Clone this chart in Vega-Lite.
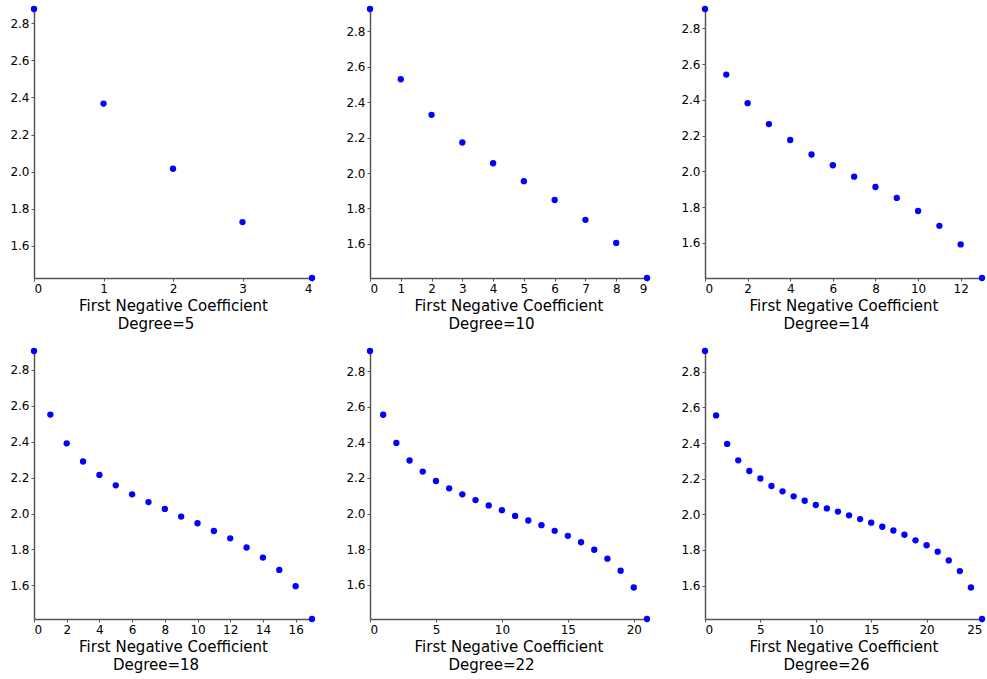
{
  "$schema": "https://vega.github.io/schema/vega-lite/v6.json",
  "padding": {"left": 9, "top": 5, "right": 0, "bottom": 0},
  "background": "white",
  "spacing": 15,
  "config": {
    "font": "DejaVu Sans",
    "view": {"stroke": null},
    "axis": {
      "grid": false,
      "domainColor": "#555555",
      "domainWidth": 1.5,
      "tickColor": "#555555",
      "tickSize": 3,
      "labelFont": "DejaVu Sans",
      "labelFontSize": 12,
      "labelColor": "#000000",
      "labelPadding": 2,
      "titleFont": "DejaVu Sans",
      "titleFontSize": 15,
      "titleFontWeight": "normal",
      "titleColor": "#000000",
      "titlePadding": 4
    },
    "title": {"font": "DejaVu Sans", "fontSize": 15, "fontWeight": "normal", "color": "#000000", "offset": 4},
    "concat": {"spacing": 29}
  },
  "datasets": {
    "pts": [
      {"degree": 5, "k": 0, "value": 2.878},
      {"degree": 5, "k": 1, "value": 2.367},
      {"degree": 5, "k": 2, "value": 2.015},
      {"degree": 5, "k": 3, "value": 1.727},
      {"degree": 5, "k": 4, "value": 1.425},
      {"degree": 10, "k": 0, "value": 2.925},
      {"degree": 10, "k": 1, "value": 2.529},
      {"degree": 10, "k": 2, "value": 2.328},
      {"degree": 10, "k": 3, "value": 2.172},
      {"degree": 10, "k": 4, "value": 2.055},
      {"degree": 10, "k": 5, "value": 1.954},
      {"degree": 10, "k": 6, "value": 1.848},
      {"degree": 10, "k": 7, "value": 1.736},
      {"degree": 10, "k": 8, "value": 1.606},
      {"degree": 10, "k": 9, "value": 1.408},
      {"degree": 14, "k": 0, "value": 2.909},
      {"degree": 14, "k": 1, "value": 2.542},
      {"degree": 14, "k": 2, "value": 2.382},
      {"degree": 14, "k": 3, "value": 2.265},
      {"degree": 14, "k": 4, "value": 2.176},
      {"degree": 14, "k": 5, "value": 2.095},
      {"degree": 14, "k": 6, "value": 2.035},
      {"degree": 14, "k": 7, "value": 1.971},
      {"degree": 14, "k": 8, "value": 1.913},
      {"degree": 14, "k": 9, "value": 1.852},
      {"degree": 14, "k": 10, "value": 1.779},
      {"degree": 14, "k": 11, "value": 1.696},
      {"degree": 14, "k": 12, "value": 1.592},
      {"degree": 14, "k": 13, "value": 1.404},
      {"degree": 18, "k": 0, "value": 2.905},
      {"degree": 18, "k": 1, "value": 2.551},
      {"degree": 18, "k": 2, "value": 2.391},
      {"degree": 18, "k": 3, "value": 2.290},
      {"degree": 18, "k": 4, "value": 2.215},
      {"degree": 18, "k": 5, "value": 2.157},
      {"degree": 18, "k": 6, "value": 2.107},
      {"degree": 18, "k": 7, "value": 2.064},
      {"degree": 18, "k": 8, "value": 2.026},
      {"degree": 18, "k": 9, "value": 1.983},
      {"degree": 18, "k": 10, "value": 1.946},
      {"degree": 18, "k": 11, "value": 1.903},
      {"degree": 18, "k": 12, "value": 1.862},
      {"degree": 18, "k": 13, "value": 1.811},
      {"degree": 18, "k": 14, "value": 1.755},
      {"degree": 18, "k": 15, "value": 1.686},
      {"degree": 18, "k": 16, "value": 1.596},
      {"degree": 18, "k": 17, "value": 1.413},
      {"degree": 22, "k": 0, "value": 2.913},
      {"degree": 22, "k": 1, "value": 2.555},
      {"degree": 22, "k": 2, "value": 2.397},
      {"degree": 22, "k": 3, "value": 2.298},
      {"degree": 22, "k": 4, "value": 2.236},
      {"degree": 22, "k": 5, "value": 2.183},
      {"degree": 22, "k": 6, "value": 2.142},
      {"degree": 22, "k": 7, "value": 2.108},
      {"degree": 22, "k": 8, "value": 2.076},
      {"degree": 22, "k": 9, "value": 2.046},
      {"degree": 22, "k": 10, "value": 2.019},
      {"degree": 22, "k": 11, "value": 1.987},
      {"degree": 22, "k": 12, "value": 1.961},
      {"degree": 22, "k": 13, "value": 1.935},
      {"degree": 22, "k": 14, "value": 1.903},
      {"degree": 22, "k": 15, "value": 1.875},
      {"degree": 22, "k": 16, "value": 1.839},
      {"degree": 22, "k": 17, "value": 1.797},
      {"degree": 22, "k": 18, "value": 1.747},
      {"degree": 22, "k": 19, "value": 1.679},
      {"degree": 22, "k": 20, "value": 1.585},
      {"degree": 22, "k": 21, "value": 1.408},
      {"degree": 26, "k": 0, "value": 2.917},
      {"degree": 26, "k": 1, "value": 2.555},
      {"degree": 26, "k": 2, "value": 2.395},
      {"degree": 26, "k": 3, "value": 2.303},
      {"degree": 26, "k": 4, "value": 2.243},
      {"degree": 26, "k": 5, "value": 2.201},
      {"degree": 26, "k": 6, "value": 2.159},
      {"degree": 26, "k": 7, "value": 2.129},
      {"degree": 26, "k": 8, "value": 2.101},
      {"degree": 26, "k": 9, "value": 2.076},
      {"degree": 26, "k": 10, "value": 2.052},
      {"degree": 26, "k": 11, "value": 2.033},
      {"degree": 26, "k": 12, "value": 2.015},
      {"degree": 26, "k": 13, "value": 1.994},
      {"degree": 26, "k": 14, "value": 1.973},
      {"degree": 26, "k": 15, "value": 1.953},
      {"degree": 26, "k": 16, "value": 1.930},
      {"degree": 26, "k": 17, "value": 1.909},
      {"degree": 26, "k": 18, "value": 1.885},
      {"degree": 26, "k": 19, "value": 1.854},
      {"degree": 26, "k": 20, "value": 1.826},
      {"degree": 26, "k": 21, "value": 1.790},
      {"degree": 26, "k": 22, "value": 1.741},
      {"degree": 26, "k": 23, "value": 1.681},
      {"degree": 26, "k": 24, "value": 1.589},
      {"degree": 26, "k": 25, "value": 1.412}
    ]
  },
  "vconcat": [
    {
      "hconcat": [
        {
          "width": 278, "height": 269,
          "data": {"name": "pts"},
          "transform": [{"filter": "datum.degree == 5"}],
          "mark": {"type": "circle", "size": 40, "color": "#0000ff", "opacity": 1},
          "encoding": {
            "x": {"field": "k", "type": "quantitative", "scale": {"domain": [0, 4], "nice": false}, "axis": {"values": [0, 1, 2, 3, 4], "title": "First Negative Coefficient"}},
            "y": {"field": "value", "type": "quantitative", "scale": {"zero": false, "nice": false}, "axis": {"values": [1.6, 1.8, 2.0, 2.2, 2.4, 2.6, 2.8], "format": ".1f", "title": null}}
          },
          "title": {"text": "Degree=5", "orient": "bottom", "anchor": "middle", "frame": "group", "dx": -17}
        },
        {
          "width": 277, "height": 269,
          "data": {"name": "pts"},
          "transform": [{"filter": "datum.degree == 10"}],
          "mark": {"type": "circle", "size": 40, "color": "#0000ff", "opacity": 1},
          "encoding": {
            "x": {"field": "k", "type": "quantitative", "scale": {"domain": [0, 9], "nice": false}, "axis": {"values": [0, 1, 2, 3, 4, 5, 6, 7, 8, 9], "title": "First Negative Coefficient"}},
            "y": {"field": "value", "type": "quantitative", "scale": {"zero": false, "nice": false}, "axis": {"values": [1.6, 1.8, 2.0, 2.2, 2.4, 2.6, 2.8], "format": ".1f", "title": null}}
          },
          "title": {"text": "Degree=10", "orient": "bottom", "anchor": "middle", "frame": "group", "dx": -17}
        },
        {
          "width": 277, "height": 269,
          "data": {"name": "pts"},
          "transform": [{"filter": "datum.degree == 14"}],
          "mark": {"type": "circle", "size": 40, "color": "#0000ff", "opacity": 1},
          "encoding": {
            "x": {"field": "k", "type": "quantitative", "scale": {"domain": [0, 13], "nice": false}, "axis": {"values": [0, 2, 4, 6, 8, 10, 12], "title": "First Negative Coefficient"}},
            "y": {"field": "value", "type": "quantitative", "scale": {"zero": false, "nice": false}, "axis": {"values": [1.6, 1.8, 2.0, 2.2, 2.4, 2.6, 2.8], "format": ".1f", "title": null}}
          },
          "title": {"text": "Degree=14", "orient": "bottom", "anchor": "middle", "frame": "group", "dx": -17}
        }
      ]
    },
    {
      "hconcat": [
        {
          "width": 278, "height": 268,
          "data": {"name": "pts"},
          "transform": [{"filter": "datum.degree == 18"}],
          "mark": {"type": "circle", "size": 40, "color": "#0000ff", "opacity": 1},
          "encoding": {
            "x": {"field": "k", "type": "quantitative", "scale": {"domain": [0, 17], "nice": false}, "axis": {"values": [0, 2, 4, 6, 8, 10, 12, 14, 16], "title": "First Negative Coefficient"}},
            "y": {"field": "value", "type": "quantitative", "scale": {"zero": false, "nice": false}, "axis": {"values": [1.6, 1.8, 2.0, 2.2, 2.4, 2.6, 2.8], "format": ".1f", "title": null}}
          },
          "title": {"text": "Degree=18", "orient": "bottom", "anchor": "middle", "frame": "group", "dx": -17}
        },
        {
          "width": 277, "height": 268,
          "data": {"name": "pts"},
          "transform": [{"filter": "datum.degree == 22"}],
          "mark": {"type": "circle", "size": 40, "color": "#0000ff", "opacity": 1},
          "encoding": {
            "x": {"field": "k", "type": "quantitative", "scale": {"domain": [0, 21], "nice": false}, "axis": {"values": [0, 5, 10, 15, 20], "title": "First Negative Coefficient"}},
            "y": {"field": "value", "type": "quantitative", "scale": {"zero": false, "nice": false}, "axis": {"values": [1.6, 1.8, 2.0, 2.2, 2.4, 2.6, 2.8], "format": ".1f", "title": null}}
          },
          "title": {"text": "Degree=22", "orient": "bottom", "anchor": "middle", "frame": "group", "dx": -17}
        },
        {
          "width": 277, "height": 268,
          "data": {"name": "pts"},
          "transform": [{"filter": "datum.degree == 26"}],
          "mark": {"type": "circle", "size": 40, "color": "#0000ff", "opacity": 1},
          "encoding": {
            "x": {"field": "k", "type": "quantitative", "scale": {"domain": [0, 25], "nice": false}, "axis": {"values": [0, 5, 10, 15, 20, 25], "title": "First Negative Coefficient"}},
            "y": {"field": "value", "type": "quantitative", "scale": {"zero": false, "nice": false}, "axis": {"values": [1.6, 1.8, 2.0, 2.2, 2.4, 2.6, 2.8], "format": ".1f", "title": null}}
          },
          "title": {"text": "Degree=26", "orient": "bottom", "anchor": "middle", "frame": "group", "dx": -17}
        }
      ]
    }
  ]
}
